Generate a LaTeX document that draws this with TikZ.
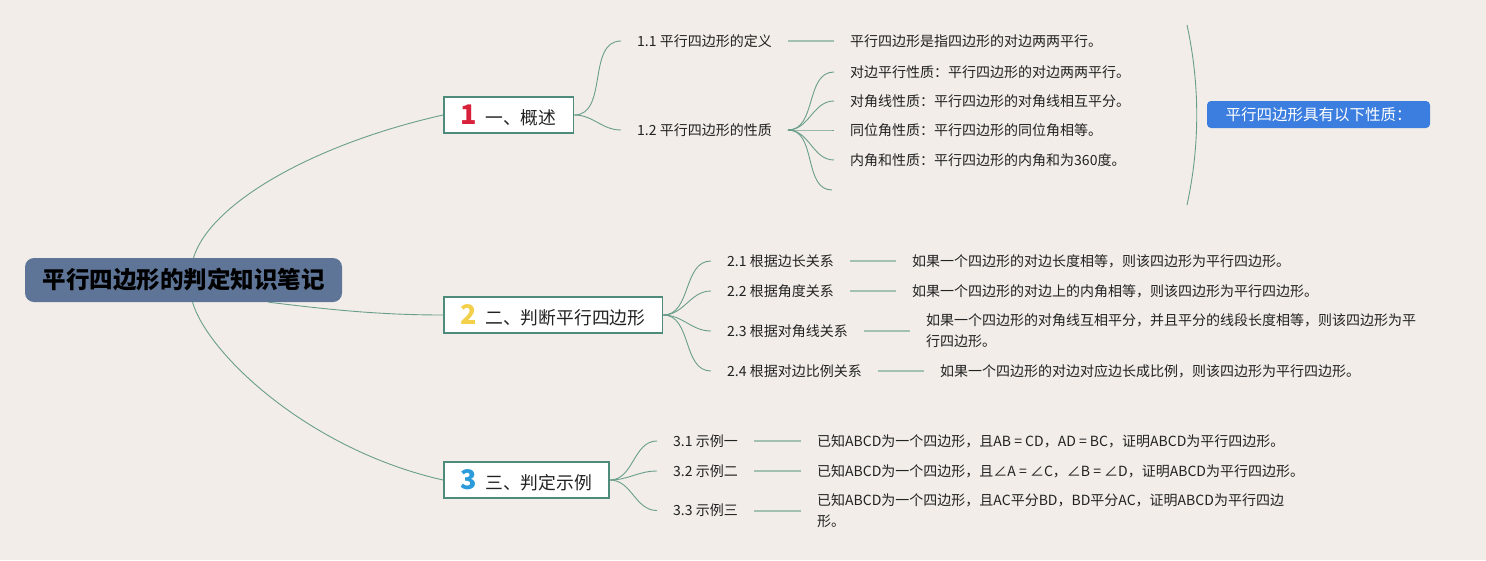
\documentclass[tikz,border=0pt]{standalone}
\usepackage{fontspec}
\setmainfont{Noto Sans CJK SC}
\usetikzlibrary{positioning}

\definecolor{paper}{HTML}{F2EDE8}
\definecolor{twig}{HTML}{6A9E8C}
\definecolor{stemline}{HTML}{A3C1B2}
\definecolor{boxline}{HTML}{4E8B7A}
\definecolor{rootblue}{HTML}{5F7598}
\definecolor{tagblue}{HTML}{3B7EDF}
\definecolor{numred}{HTML}{D8203A}
\definecolor{numyellow}{HTML}{F2D04A}
\definecolor{numblue}{HTML}{2B9BDB}
\definecolor{ink}{HTML}{222222}

\newcommand\topicnum[2]{{\fontsize{27}{27}\selectfont\bfseries\color{#1}#2}}

\begin{document}
\begin{tikzpicture}
[
    x=1pt, y=-1pt,
    every node/.style={text=ink},
    rootbox/.style={fill=rootblue, rounded corners=9pt, minimum width=317pt, minimum height=44pt, text=black, font=\fontsize{23.5}{24}\selectfont\bfseries},
    topic/.style={draw=boxline, line width=1.6pt, fill=white, anchor=west, minimum height=36pt, inner xsep=17pt, font=\fontsize{17.8}{20}\selectfont},
    subtopic/.style={anchor=west, inner xsep=16pt, inner ysep=2pt, font=\fontsize{14}{21}\selectfont},
    leafnote/.style={anchor=west, inner xsep=16pt, inner ysep=2pt, align=left, font=\fontsize{14}{21}\selectfont},
    tag/.style={fill=tagblue, rounded corners=4pt, minimum width=223pt, minimum height=27pt, text=white, font=\fontsize{15.5}{18}\selectfont},
    trunk/.style={draw=twig, line width=0.9pt},
    branch/.style={draw=twig, line width=0.9pt},
    stem/.style={draw=stemline, line width=2pt},
]
\useasboundingbox[fill=paper] (0,0) rectangle (1486,560);

% central topic
\node[rootbox] (root) at (183.5,280) {平行四边形的判定知识笔记};

% main topics
\node[topic] (t1) at (443,115) {\topicnum{numred}{1}\hspace{8pt}一、概述};
\node[topic] (t2) at (443,315) {\topicnum{numyellow}{2}\hspace{8pt}二、判断平行四边形};
\node[topic] (t3) at (443,480) {\topicnum{numblue}{3}\hspace{8pt}三、判定示例};

\draw[trunk] ([xshift=10pt]root.north) .. controls +(16,-53) and +(-133,30) .. (t1.west);
\draw[trunk] ([xshift=85pt]root.south) .. controls +(50,6) and +(-70,0) .. (t2.west);
\draw[trunk] ([xshift=9pt]root.south) .. controls +(16,53) and +(-133,-30) .. (t3.west);

% 1
\node[subtopic] (d11) at (621,41) {1.1 平行四边形的定义};
\node[subtopic] (d12) at (621,130) {1.2 平行四边形的性质};
\node[leafnote] (e11) at (834,41) {平行四边形是指四边形的对边两两平行。};
\node[leafnote] (p1) at (834,72) {对边平行性质：平行四边形的对边两两平行。};
\node[leafnote] (p2) at (834,101) {对角线性质：平行四边形的对角线相互平分。};
\node[leafnote] (p3) at (834,130) {同位角性质：平行四边形的同位角相等。};
\node[leafnote] (p4) at (834,160) {内角和性质：平行四边形的内角和为360度。};
\coordinate (p5) at (832,190);

\foreach \n in {d11,d12} \draw[branch] (t1.east) to[out=0,in=180] (\n.west);
\draw[stem] (d11.east) -- (e11.west);
\foreach \n in {p1,p2,p3,p4} \draw[branch] (d12.east) to[out=0,in=180] (\n.west);
\draw[branch] (d12.east) to[out=0,in=180] (p5);

% summary
\coordinate (bt) at (1187,25);
\coordinate (bb) at (1187,205);
\draw[branch] (bt) .. controls (1200,85) and (1200,145) .. (bb);
\node[tag] (note) at (1318.5,114.5) {平行四边形具有以下性质：};

% 2
\node[subtopic] (d21) at (711,261) {2.1 根据边长关系};
\node[subtopic] (d22) at (711,291) {2.2 根据角度关系};
\node[subtopic] (d23) at (711,331) {2.3 根据对角线关系};
\node[subtopic] (d24) at (711,371) {2.4 根据对边比例关系};
\node[leafnote] (e21) at (896,261) {如果一个四边形的对边长度相等，则该四边形为平行四边形。};
\node[leafnote] (e22) at (896,291) {如果一个四边形的对边上的内角相等，则该四边形为平行四边形。};
\node[leafnote] (e23) at (910,331) {如果一个四边形的对角线互相平分，并且平分的线段长度相等，则该四边形为平\\行四边形。};
\node[leafnote] (e24) at (924,371) {如果一个四边形的对边对应边长成比例，则该四边形为平行四边形。};

\foreach \n in {1,2,3,4} {
    \draw[branch] (t2.east) to[out=0,in=180] (d2\n.west);
    \draw[stem] (d2\n.east) -- (e2\n.west);
}

% 3
\node[subtopic] (d31) at (657,441) {3.1 示例一};
\node[subtopic] (d32) at (657,471) {3.2 示例二};
\node[subtopic] (d33) at (657,510.5) {3.3 示例三};
\node[leafnote] (e31) at (801,441) {已知ABCD为一个四边形，且AB = CD，AD = BC，证明ABCD为平行四边形。};
\node[leafnote] (e32) at (801,471) {已知ABCD为一个四边形，且∠A = ∠C，∠B = ∠D，证明ABCD为平行四边形。};
\node[leafnote] (e33) at (801,510.5) {已知ABCD为一个四边形，且AC平分BD，BD平分AC，证明ABCD为平行四边\\形。};

\foreach \n in {1,2,3} {
    \draw[branch] (t3.east) to[out=0,in=180] (d3\n.west);
    \draw[stem] (d3\n.east) -- (e3\n.west);
}
\end{tikzpicture}
\end{document}
